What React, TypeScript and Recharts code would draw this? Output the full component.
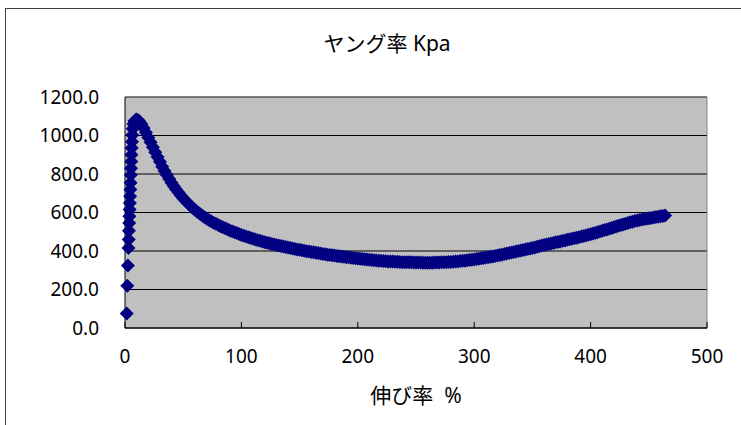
import React from "react";
import {
  ScatterChart,
  Scatter,
  XAxis,
  YAxis,
  CartesianGrid,
  ReferenceLine,
} from "recharts";

// 伸び率 (%) / ヤング率 (Kpa) readings, split by section of the curve
const rise: Array<[number, number]> = [
  [1.5, 75], [2, 220], [2.5, 325], [3, 415], [3.2, 460], [3.4, 505],
  [3.6, 545], [3.8, 580], [4, 615], [4.2, 650], [4.4, 685], [4.6, 720],
  [4.8, 755], [5, 795], [5.2, 830], [5.4, 865], [5.6, 900], [5.8, 935],
  [6, 968], [6.3, 1003], [6.7, 1035], [7.3, 1060], [8.2, 1075], [9.5, 1083],
  [10.5, 1082],
];

const fall: Array<[number, number]> = [
  [12, 1076], [14, 1060], [16, 1039], [18, 1015], [20, 990], [22, 965],
  [24, 939], [26, 913], [28, 888], [30, 863], [32, 838], [34, 816],
  [36, 795], [38, 774], [40, 755], [42, 737], [44, 720], [46, 704],
  [48, 688], [50, 674], [52, 661], [54, 648], [56, 636], [58, 625],
  [60, 614], [62, 604], [64, 595], [66, 586], [68, 577], [70, 569],
  [72, 561], [74, 554], [76, 547], [78, 541], [80, 535], [82, 529],
  [84, 523], [86, 518], [88, 513], [90, 507], [92, 502], [94, 497],
  [96, 493], [98, 488], [100, 483], [102, 479], [104, 475], [106, 471],
  [108, 467], [110, 463], [112, 460], [114, 456], [116, 453], [118, 450],
  [120, 446], [122, 443], [124, 440], [126, 437], [128, 434], [130, 431],
  [132, 429], [134, 426], [136, 423], [138, 421], [140, 418], [142, 415],
  [144, 413], [146, 411], [148, 408], [150, 406], [152, 404], [154, 401],
  [156, 399], [158, 397], [160, 395], [162, 393], [164, 391], [166, 389],
  [168, 387], [170, 385], [172, 383], [174, 381], [176, 379], [178, 378],
  [180, 376], [182, 374], [184, 373], [186, 371],
];

const trough: Array<[number, number]> = [
  [188, 370], [190, 368], [192, 367], [194, 365], [196, 364], [198, 362],
  [200, 361], [202, 360], [204, 358], [206, 357], [208, 356], [210, 354],
  [212, 353], [214, 352], [216, 351], [218, 350], [220, 349], [222, 348],
  [224, 347], [226, 346], [228, 346], [230, 345], [232, 344], [234, 344],
  [236, 343], [238, 342], [240, 342], [242, 341], [244, 341], [246, 341],
  [248, 340], [250, 340], [252, 340], [254, 340], [256, 339], [258, 339],
  [260, 339], [262, 339], [264, 339], [266, 340], [268, 340], [270, 340],
  [272, 341], [274, 341], [276, 342], [278, 343], [280, 343], [282, 344],
  [284, 345], [286, 346], [288, 348], [290, 349], [292, 350], [294, 352],
  [296, 353], [298, 354], [300, 356], [302, 358], [304, 360], [306, 362],
  [308, 364], [310, 366], [312, 368],
];

const climb: Array<[number, number]> = [
  [314, 370], [316, 372], [318, 374], [320, 377], [322, 379], [324, 381],
  [326, 384], [328, 387], [330, 389], [332, 392], [334, 395], [336, 397],
  [338, 400], [340, 403], [342, 405], [344, 408], [346, 411], [348, 413],
  [350, 415], [352, 418], [354, 422], [356, 425], [358, 428], [360, 431],
  [362, 434], [364, 437], [366, 439], [368, 442], [370, 445], [372, 447],
  [374, 450], [376, 453], [378, 455], [380, 458], [382, 461], [384, 463],
  [386, 466], [388, 469], [390, 472], [392, 475], [394, 478], [396, 481],
  [398, 484], [400, 487], [402, 491], [404, 494], [406, 498], [408, 501],
  [410, 505], [412, 509], [414, 512], [416, 516], [418, 520], [420, 524],
  [422, 527], [424, 531], [426, 535], [428, 538], [430, 542], [432, 546],
  [434, 549], [436, 552], [438, 556], [440, 558], [442, 561], [444, 564],
  [446, 566], [448, 568], [450, 570], [452, 572], [454, 574], [456, 576],
  [458, 578], [460, 580], [462, 582], [464, 585],
];

const xTicks = [0, 100, 200, 300, 400, 500];
const yTicks = [0, 200, 400, 600, 800, 1000, 1200];

const FONT = "'Noto Sans', 'Noto Sans CJK JP', sans-serif";
const NAVY = "#000080";

const data = [...rise, ...fall, ...trough, ...climb].map(([x, y]) => ({ x, y }));

function Diamond(props: any) {
  const { cx, cy } = props;
  const r = 7;
  return (
    <path
      d={`M${cx},${cy - r}L${cx + r},${cy}L${cx},${cy + r}L${cx - r},${cy}Z`}
      fill={NAVY}
    />
  );
}

function XTick(props: any) {
  const { x, y, payload } = props;
  return (
    <g>
      <line x1={x} x2={x} y1={y} y2={y - 6} stroke="#000" />
      <text x={x} y={y + 35} textAnchor="middle" fontSize={19} fill="#000" fontFamily={FONT}>
        {payload.value}
      </text>
    </g>
  );
}

export default function App() {
  return (
    <div
      style={{
        position: "fixed",
        left: 0,
        top: 0,
        width: 741,
        height: 425,
        overflow: "hidden",
        background: "#fff",
        fontFamily: FONT,
      }}
    >
      <div
        style={{
          position: "absolute",
          left: 5,
          top: 8,
          width: 1000,
          height: 1000,
          border: "1px solid #404040",
        }}
      />
      <div
        style={{
          position: "absolute",
          left: 0,
          width: 774,
          top: 27,
          textAlign: "center",
          fontSize: 21,
          lineHeight: "32px",
          color: "#000",
        }}
      >
        ヤング率 Kpa
      </div>
      <div
        style={{
          position: "absolute",
          left: 125,
          width: 582,
          top: 379,
          textAlign: "center",
          fontSize: 21,
          lineHeight: "32px",
          color: "#000",
          whiteSpace: "pre",
        }}
      >
        伸び率  %
      </div>
      <div style={{ position: "absolute", left: 0, top: 0 }}>
        <ScatterChart
          width={741}
          height={425}
          margin={{ top: 97, right: 34, bottom: 57, left: 0 }}
        >
          <CartesianGrid
            vertical={false}
            stroke="#000"
            fill="#C0C0C0"
            fillOpacity={1}
          />
          <XAxis
            type="number"
            dataKey="x"
            domain={[0, 500]}
            ticks={xTicks}
            height={40}
            tickSize={0}
            tickMargin={0}
            tickLine={false}
            axisLine={{ stroke: "#000" }}
            tick={<XTick />}
            interval={0}
          />
          <YAxis
            type="number"
            dataKey="y"
            domain={[0, 1200]}
            ticks={yTicks}
            width={125}
            tickSize={0}
            tickMargin={26}
            tickLine={false}
            axisLine={{ stroke: "#000" }}
            tickFormatter={(v: number) => v.toFixed(1)}
            tick={{ fontSize: 19, fill: "#000", fontFamily: FONT }}
            interval={0}
          />
          <ReferenceLine y={1200} stroke="#808080" />
          <ReferenceLine x={500} stroke="#808080" />
          <Scatter data={data} shape={<Diamond />} isAnimationActive={false} />
        </ScatterChart>
      </div>
    </div>
  );
}
